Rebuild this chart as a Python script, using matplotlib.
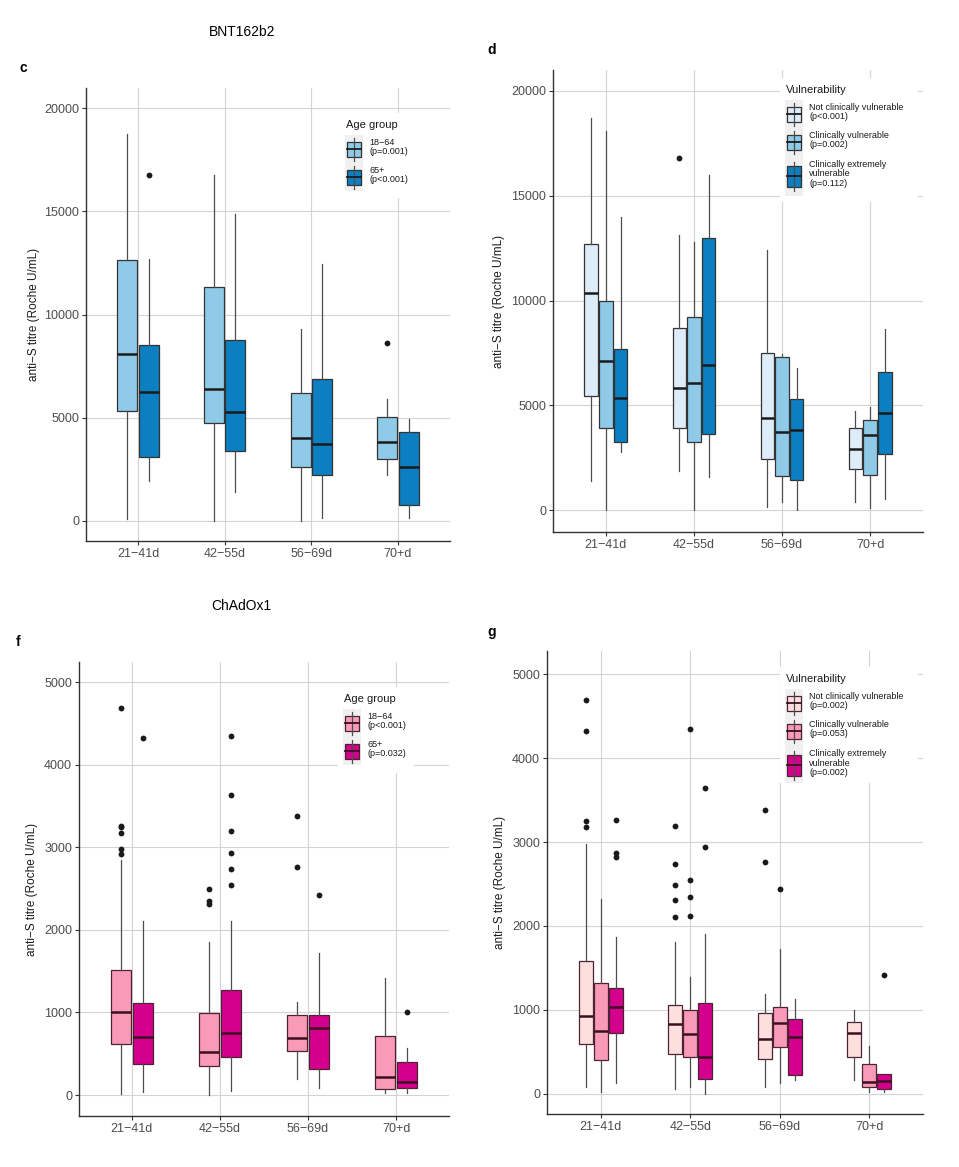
import numpy as np
import matplotlib
matplotlib.use('Agg')
import matplotlib.pyplot as plt
from matplotlib.patches import Rectangle

plt.rcParams['font.family'] = ['Liberation Sans', 'DejaVu Sans']

# data (box stats per group, per timepoint)
categories = ['21\u221241d', '42\u221255d', '56\u221269d', '70+d']

# c: BNT162b2 by age group
c_labels = ['18\u221264\n(p=0.001)', '65+\n(p<0.001)']
c_lo = [[80, 0, 0, 2229], [1939, 1389, 129, 129]]
c_q1 = [[5331, 4750, 2601, 3021], [3118, 3393, 2246, 759]]
c_med = [[8094, 6381, 4023, 3813], [6236, 5267, 3716, 2601]]
c_q3 = [[12650, 11357, 6203, 5057], [8530, 8788, 6882, 4330]]
c_hi = [[18740, 16769, 9289, 5897], [12682, 14879, 12456, 4960]]
c_out = [[[], [], [], [8643]], [[16785], [], [], []]]

# d: BNT162b2 by vulnerability
d_labels = ['Not clinically vulnerable\n(p<0.001)', 'Clinically vulnerable\n(p=0.002)',
            'Clinically extremely\nvulnerable\n(p=0.112)']
d_lo = [[1399, 1892, 143, 413], [0, 0, 382, 127], [2798, 1590, 0, 525]]
d_q1 = [[5469, 3943, 2464, 1955], [3911, 3275, 1622, 1669], [3259, 3657, 1463, 2671]]
d_med = [[10381, 5819, 4388, 2909], [7138, 6089, 3736, 3577], [5374, 6916, 3816, 4658]]
d_q3 = [[12687, 8696, 7504, 3911], [10000, 9205, 7329, 4308], [7711, 13004, 5294, 6582]]
d_hi = [[18728, 13148, 12416, 4753], [18092, 12814, 7450, 4944], [13990, 15977, 6773, 8633]]
d_out = [[[], [16788], [], []], [[], [], [], []], [[], [], [], []]]

# f: ChAdOx1 by age group
f_labels = ['18\u221264\n(p<0.001)', '65+\n(p=0.032)']
f_lo = [[8, 0, 198, 20], [40, 48, 81, 28]]
f_q1 = [[614, 355, 537, 69], [376, 464, 315, 81]]
f_med = [[1010, 517, 695, 218], [707, 755, 816, 162]]
f_q3 = [[1515, 990, 973, 715], [1115, 1272, 969, 400]]
f_hi = [[2847, 1858, 1131, 1414], [2112, 2112, 1725, 565]]
f_out = [[[4693, 3262, 3250, 3179, 2981, 2916], [2492, 2347, 2320], [3380, 2758], []],
         [[4322], [4350, 3639, 3195, 2936, 2734, 2544], [2427], [1002]]]

# g: ChAdOx1 by vulnerability
g_labels = ['Not clinically vulnerable\n(p=0.002)', 'Clinically vulnerable\n(p=0.053)',
            'Clinically extremely\nvulnerable\n(p=0.002)']
g_lo = [[83, 52, 83, 163], [16, 83, 131, 24], [123, 0, 163, 24]]
g_q1 = [[596, 473, 409, 441], [401, 441, 560, 83], [727, 171, 219, 60]]
g_med = [[922, 831, 652, 719], [747, 707, 839, 143], [1029, 433, 680, 151]]
g_q3 = [[1586, 1053, 958, 859], [1320, 998, 1033, 358], [1264, 1077, 890, 234]]
g_hi = [[2973, 1812, 1188, 998], [2321, 1395, 1725, 568], [1872, 1904, 1133, 234]]
g_out = [[[4690, 4328, 3255, 3180], [3196, 2735, 2492, 2305, 2107], [3378, 2762], []],
         [[], [4352, 2544, 2341, 2118], [2436], []],
         [[3263, 2874, 2826], [3641, 2941], [], [1415]]]

blues2 = ['#8fcbe8', '#0b7fc1']
blues3 = ['#deecf9', '#8fcbe8', '#0b7fc1']
pinks2 = ['#f99bb8', '#d4008d']
pinks3 = ['#fde0de', '#f99bb8', '#d4008d']

W, H = 959, 1167
fig = plt.figure(figsize=(W / 100, H / 100), dpi=100)


def px_axes(l, t, r, b):
    return fig.add_axes([l / W, 1 - b / H, (r - l) / W, (b - t) / H])


def panel(box, lo, q1, med, q3, hi, out, colors, edge, medc, offsets, width,
          ylim, yticks, ylab_x):
    ax = px_axes(*box)
    for g in range(len(lo)):
        stats = [dict(whislo=lo[g][i], q1=q1[g][i], med=med[g][i], q3=q3[g][i],
                      whishi=hi[g][i], fliers=out[g][i]) for i in range(4)]
        ax.bxp(stats, positions=np.arange(1, 5) + offsets[g], widths=width,
               patch_artist=True, showcaps=False, manage_ticks=False,
               boxprops=dict(facecolor=colors[g], edgecolor=edge, linewidth=0.9),
               medianprops=dict(color=medc, linewidth=1.8, solid_capstyle='butt'),
               whiskerprops=dict(color='#4d4d4d', linewidth=0.9),
               flierprops=dict(marker='o', markerfacecolor='#1a1a1a',
                               markeredgecolor='none', markersize=4.2))
    ax.set_xlim(0.4, 4.6)
    ax.set_ylim(*ylim)
    ax.set_xticks(range(1, 5))
    ax.set_xticklabels(categories)
    ax.set_yticks(yticks)
    ax.grid(True, color='#d3d3d3', linewidth=0.8)
    ax.set_axisbelow(True)
    for s in ['top', 'right']:
        ax.spines[s].set_visible(False)
    for s in ['left', 'bottom']:
        ax.spines[s].set_color('#333333')
        ax.spines[s].set_linewidth(1.0)
    ax.tick_params(length=3, color='#333333', labelsize=9, labelcolor='#4d4d4d', pad=2)
    ax.set_ylabel('anti\u2212S titre (Roche U/mL)', fontsize=8.5, color='#1a1a1a')
    ax.yaxis.set_label_coords(ylab_x, 0.5)
    return ax


def legend(box, title, labels, colors, edge, medc):
    l, t, r, b = box
    lax = px_axes(l, t, r, b)
    lax.set_xlim(l, r)
    lax.set_ylim(b, t)
    lax.set_xticks([])
    lax.set_yticks([])
    for s in lax.spines.values():
        s.set_visible(False)
    lax.set_facecolor('white')
    lax.text(l + 6, t + 12, title, fontsize=8, va='center', ha='left', color='#1a1a1a')
    x0 = l + 5
    y = t + 22
    heights = [40 if lab.count('\n') == 2 else 28 for lab in labels]
    lax.add_patch(Rectangle((x0, y), 18, sum(heights), facecolor='#f0f0f0',
                            edgecolor='none'))
    for lab, col, kh in zip(labels, colors, heights):
        cy = y + kh / 2
        bh = 21 if kh > 30 else 15
        lax.plot([x0 + 9, x0 + 9], [cy - bh / 2 - 4, cy + bh / 2 + 4], color='#4d4d4d', lw=0.9)
        lax.add_patch(Rectangle((x0 + 2, cy - bh / 2), 14, bh, facecolor=col,
                                edgecolor=edge, lw=0.9))
        lax.plot([x0 + 2, x0 + 16], [cy, cy], color=medc, lw=1.3)
        lax.text(x0 + 24, cy - 2, lab, fontsize=6.5, va='center', ha='left',
                 color='#1a1a1a', linespacing=1.05)
        y += kh


off2 = [-0.124, 0.124]
off3 = [-0.167, 0.0, 0.167]

panel((86, 88, 450, 541), c_lo, c_q1, c_med, c_q3, c_hi, c_out, blues2, '#333333',
      '#1a1a1a', off2, 0.23, (-970, 20980), [0, 5000, 10000, 15000, 20000], -0.126)
panel((553, 70, 923, 532), d_lo, d_q1, d_med, d_q3, d_hi, d_out, blues3, '#333333',
      '#1a1a1a', off3, 0.152, (-1035, 21000), [0, 5000, 10000, 15000, 20000], -0.13)
panel((79, 662, 449, 1116), f_lo, f_q1, f_med, f_q3, f_hi, f_out, pinks2, '#4d2233',
      '#3a1020', off2, 0.226, (-254, 5246), [0, 1000, 2000, 3000, 4000, 5000], -0.111)
panel((547, 651, 923, 1114), g_lo, g_q1, g_med, g_q3, g_hi, g_out, pinks3, '#4d2233',
      '#3a1020', off3, 0.156, (-242, 5278), [0, 1000, 2000, 3000, 4000, 5000], -0.109)

legend((340, 113, 416, 198), 'Age group', c_labels, blues2, '#333333', '#1a1a1a')
legend((780, 78, 918, 202), 'Vulnerability', d_labels, blues3, '#333333', '#1a1a1a')
legend((338, 687, 414, 773), 'Age group', f_labels, pinks2, '#4d2233', '#3a1020')
legend((780, 667, 918, 783), 'Vulnerability', g_labels, pinks3, '#4d2233', '#3a1020')

fig.text(242 / W, 1 - 32 / H, 'BNT162b2', fontsize=10, ha='center', va='center')
fig.text(241 / W, 1 - 606 / H, 'ChAdOx1', fontsize=10, ha='center', va='center')
for lab, x, y in [('c', 20, 68), ('d', 487, 50), ('f', 16, 642), ('g', 487, 632)]:
    fig.text(x / W, 1 - y / H, lab, fontsize=10, fontweight='bold', ha='left', va='center')

fig.savefig('out.png', dpi=100)
